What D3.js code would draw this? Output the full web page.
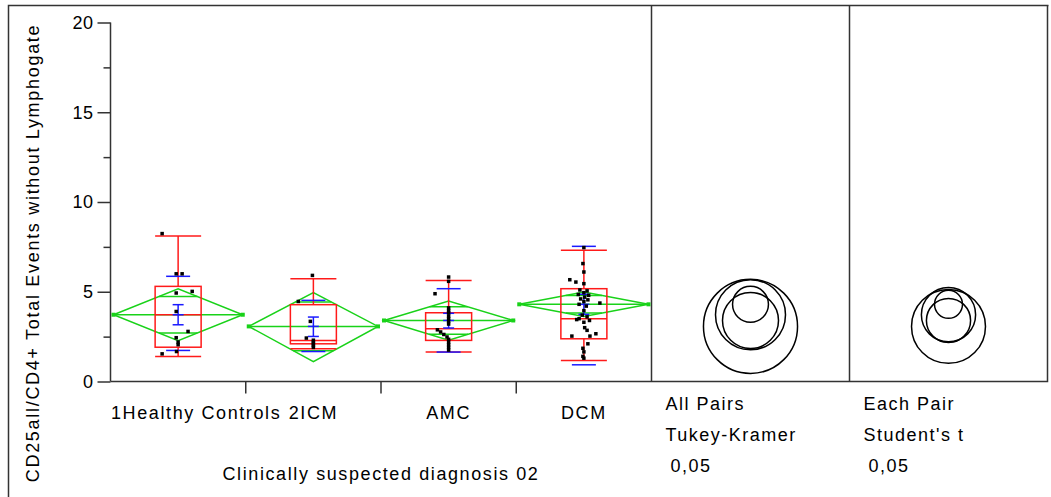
<!DOCTYPE html>
<html>
<head>
<meta charset="utf-8">
<script src="https://cdn.jsdelivr.net/npm/d3@7/dist/d3.min.js"></script>
<style>
  html, body { margin: 0; padding: 0; background: #fff; }
  svg { display: block; font-family: "Liberation Sans", Arial, sans-serif; }
</style>
</head>
<body>
<svg id="chart" width="1051" height="497"></svg>
<script>
// ---- data ----
const groups = ["1Healthy Controls", "2ICM", "AMC", "DCM"];
const yTicks = [0, 5, 10, 15, 20];
const yMinorTicks = [2.5, 7.5, 12.5, 17.5];

// individual observations: [horizontal jitter (-1..1), value]
const healthyPoints = [[-1, 8.24], [-0.12, 6.0], [0.25, 6.0], [-0.12, 4.93], [0.88, 5.02], [-0.12, 3.9],
  [0.62, 2.79], [-0.12, 2.44], [0, 2.2], [0, 2.05], [-0.1, 1.67], [-1, 1.54]];
const icmPoints = [[-0.06, 5.91], [-0.94, 4.46], [-0.19, 3.35], [-0.44, 2.42], [0, 2.3], [0, 2.2],
  [0, 2.1], [0, 2.0], [0, 1.9]];
const amcPoints = [[0, 5.82], [0, 5.58], [-0.85, 4.89], [0, 4.1], [0, 3.95], [0, 3.82], [0, 3.65], [0, 3.5],
  [0, 3.35], [0, 3.2], [-0.7, 2.88], [-0.5, 2.76], [-0.3, 2.62], [-0.1, 2.48], [0, 2.35], [0, 2.2],
  [0, 2.05], [0, 1.9], [0, 1.75]];
const dcmPoints = [[0, 7.46], [-0.06, 6.57], [0, 6.1], [-0.88, 5.67], [-0.5, 5.54], [0, 5.45],
  [-0.25, 5.1], [0.2, 5.05], [0, 4.95], [-0.35, 4.85], [0.3, 4.8], [0.05, 4.7], [-0.2, 4.6], [0.25, 4.55],
  [0, 4.45], [1.0, 4.37], [-0.3, 4.3], [0.15, 4.2], [0, 3.95], [-0.1, 3.7], [0.2, 3.6], [-0.3, 3.5],
  [-0.45, 3.45], [0.35, 3.4], [0, 3.3], [0.05, 3.0], [0.2, 2.85], [-0.75, 2.53], [0.75, 2.66], [0.38, 2.53],
  [0.25, 2.1], [-0.06, 1.85], [0, 1.65], [-0.06, 1.4], [0, 1.3]];
const groupPoints = [healthyPoints, icmPoints, amcPoints, dcmPoints];

// quantile boxes
const whiskerHigh = [8.1, 5.73, 5.63, 7.31];
const quartile3 = [5.3, 4.28, 3.83, 5.17];
const medians = [3.72, 2.29, 2.94, 3.5];
const quartile1 = [1.91, 2.1, 2.29, 2.38];
const whiskerLow = [1.39, 1.82, 1.64, 1.17];

// means diamonds (95% CI) with overlap marks
const means = [3.72, 3.07, 3.4, 4.3];
const ciHigh = [5.17, 4.95, 4.48, 4.98];
const ciLow = [2.27, 1.1, 2.3, 3.62];
const overlapHigh = [4.74, 4.43, 4.16, 4.79];
const overlapLow = [2.7, 1.71, 2.63, 3.81];

// std dev lines and mean error bars
const sdHigh = [5.86, 4.52, 5.17, 7.53];
const sdLow = [1.73, 1.67, 1.64, 0.93];
const seHigh = [4.28, 3.59, 3.8, 4.86];
const seLow = [3.16, 2.51, 2.98, 3.74];

// comparison circle radii (y units)
const tukeyRadius = [1.95, 2.62, 1.56, 1.0];
const studentRadius = [1.51, 2.06, 1.23, 0.78];
const compareLabels = [["All Pairs", "Tukey-Kramer", "0,05"], ["Each Pair", "Student's t", "0,05"]];

const yTitle = "CD25all/CD4+ Total Events without Lymphogate";
const xTitle = "Clinically suspected diagnosis 02";

// ---- layout ----
const svg = d3.select("#chart");
const GREEN = "#19d219", RED = "#ff1a1a", BLUE = "#1a1aff", AXIS = "#333", INK = "#000";
const plotLeft = 110.5, plotRight = 651.5, panelRight = 1047.5, plotTop = 5.5, plotBottom = 381.5;

const y = d3.scaleLinear().domain([0, 20]).range([plotBottom, 22.5]);
const x = d3.scaleBand().domain(groups).range([plotLeft, plotRight]).padding(0);
const panels = d3.scaleBand().domain([0, 1]).range([plotRight, panelRight]).padding(0);
const jitter = d3.scaleLinear().domain([-1, 1]).range([-16, 16]);
const cx = i => x(groups[i]) + x.bandwidth() / 2;

// frame
svg.append("path")
  .attr("d", `M8.5,497 V${plotTop} H${panelRight + 1}`)
  .attr("fill", "none").attr("stroke", AXIS).attr("stroke-width", 1.5);
svg.append("path")
  .attr("d", `M${plotLeft},${plotBottom} H${panelRight} V${plotTop}`)
  .attr("fill", "none").attr("stroke", AXIS).attr("stroke-width", 1.5);
[plotRight, panels(1)].forEach(px => {
  svg.append("line").attr("x1", px).attr("x2", px).attr("y1", plotTop).attr("y2", plotBottom)
    .attr("stroke", AXIS).attr("stroke-width", 1.5);
});

// y axis
const yAxis = svg.append("g").attr("transform", `translate(${plotLeft},0)`)
  .call(d3.axisLeft(y).tickValues(yTicks).tickSize(13).tickPadding(4).tickFormat(d3.format("d")));
yAxis.select(".domain").attr("stroke", AXIS).attr("stroke-width", 1.5).attr("d", `M0,${y(20)}V${plotBottom}`);
yAxis.selectAll(".tick line").attr("stroke", AXIS).attr("stroke-width", 1.5);
yAxis.selectAll(".tick text").attr("font-size", 18).attr("fill", INK)
  .attr("font-family", "Liberation Sans, Arial, sans-serif").style("letter-spacing", "0.5px");
const yMinor = svg.append("g").attr("transform", `translate(${plotLeft},0)`)
  .call(d3.axisLeft(y).tickValues(yMinorTicks).tickSize(7).tickFormat(""));
yMinor.select(".domain").remove();
yMinor.selectAll(".tick line").attr("stroke", AXIS).attr("stroke-width", 1.5);

// x axis: ticks at group boundaries
const bounds = groups.slice(1).map(g => x(g));
svg.append("g").selectAll("line").data(bounds).join("line")
  .attr("x1", d => d).attr("x2", d => d).attr("y1", plotBottom).attr("y2", plotBottom + 12)
  .attr("stroke", AXIS).attr("stroke-width", 1.5);

const xLabels = svg.append("g").selectAll("text").data(groups).join("text")
  .attr("y", 419).attr("font-size", 18).attr("fill", INK)
  .style("letter-spacing", "1.6px").text(d => d);
xLabels.each(function (d) {
  const w = this.getComputedTextLength();
  const left = Math.max(x(d) + x.bandwidth() / 2 - w / 2, plotLeft + 0.5);
  d3.select(this).attr("x", left);
});

svg.append("text").attr("x", (plotLeft + plotRight) / 2).attr("y", 480)
  .attr("text-anchor", "middle").attr("font-size", 18).attr("fill", INK)
  .style("letter-spacing", "1.6px").text(xTitle);
svg.append("text").attr("transform", "translate(39,253) rotate(-90)")
  .attr("text-anchor", "middle").attr("font-size", 18).attr("fill", INK)
  .style("letter-spacing", "1.7px").text(yTitle);

// ---- marks per group ----
const g = svg.append("g");
groups.forEach((name, i) => {
  const c = cx(i);
  const hw = x.bandwidth() / 2 - 3;   // diamond half width
  const bw = 23;                       // box half width

  // means diamond
  g.append("path")
    .attr("d", `M${c - hw},${y(means[i])} L${c},${y(ciHigh[i])} L${c + hw},${y(means[i])} L${c},${y(ciLow[i])} Z`)
    .attr("fill", "none").attr("stroke", GREEN).attr("stroke-width", 1.5);
  g.append("line").attr("x1", c - hw).attr("x2", c + hw).attr("y1", y(means[i])).attr("y2", y(means[i]))
    .attr("stroke", GREEN).attr("stroke-width", 1.5);
  [overlapHigh[i], overlapLow[i]].forEach(v => {
    const frac = Math.abs(v - means[i]) / Math.abs((v > means[i] ? ciHigh[i] : ciLow[i]) - means[i]);
    const ow = hw * (1 - frac);
    g.append("line").attr("x1", c - ow).attr("x2", c + ow).attr("y1", y(v)).attr("y2", y(v))
      .attr("stroke", GREEN).attr("stroke-width", 1.5);
  });
  [c - hw, c + hw].forEach(px => {
    g.append("rect").attr("x", px - 2).attr("y", y(means[i]) - 2).attr("width", 4).attr("height", 4)
      .attr("fill", GREEN);
  });

  // quantile box
  g.append("rect").attr("x", c - bw).attr("y", y(quartile3[i]))
    .attr("width", bw * 2).attr("height", y(quartile1[i]) - y(quartile3[i]))
    .attr("fill", "none").attr("stroke", RED).attr("stroke-width", 1.5);
  g.append("line").attr("x1", c - bw).attr("x2", c + bw).attr("y1", y(medians[i])).attr("y2", y(medians[i]))
    .attr("stroke", RED).attr("stroke-width", 1.5);
  [[whiskerHigh[i], quartile3[i]], [whiskerLow[i], quartile1[i]]].forEach(([w, q]) => {
    g.append("line").attr("x1", c).attr("x2", c).attr("y1", y(w)).attr("y2", y(q))
      .attr("stroke", RED).attr("stroke-width", 1.5);
    g.append("line").attr("x1", c - bw).attr("x2", c + bw).attr("y1", y(w)).attr("y2", y(w))
      .attr("stroke", RED).attr("stroke-width", 1.5);
  });

  // std dev lines
  [sdHigh[i], sdLow[i]].forEach(v => {
    g.append("line").attr("x1", c - 12).attr("x2", c + 12).attr("y1", y(v)).attr("y2", y(v))
      .attr("stroke", BLUE).attr("stroke-width", 1.5);
  });
  // mean error bar
  g.append("line").attr("x1", c).attr("x2", c).attr("y1", y(seHigh[i])).attr("y2", y(seLow[i]))
    .attr("stroke", BLUE).attr("stroke-width", 1.5);
  [seHigh[i], means[i], seLow[i]].forEach(v => {
    g.append("line").attr("x1", c - 5.5).attr("x2", c + 5.5).attr("y1", y(v)).attr("y2", y(v))
      .attr("stroke", BLUE).attr("stroke-width", 1.5);
  });

  // observations
  g.append("g").selectAll("rect").data(groupPoints[i]).join("rect")
    .attr("x", d => c + jitter(d[0]) - 1.75).attr("y", d => y(d[1]) - 1.75)
    .attr("width", 3.5).attr("height", 3.5).attr("fill", "#000");
});

// ---- comparison circles ----
[tukeyRadius, studentRadius].forEach((radii, p) => {
  const pc = panels(p) + panels.bandwidth() / 2;
  svg.append("g").selectAll("circle").data(radii).join("circle")
    .attr("cx", pc).attr("cy", (d, i) => y(means[i]))
    .attr("r", d => y(0) - y(d))
    .attr("fill", "none").attr("stroke", "#000").attr("stroke-width", 1.5);
  const lbl = svg.append("g");
  compareLabels[p].forEach((t, k) => {
    lbl.append("text").attr("x", panels(p) + (k === 2 ? 19 : 14)).attr("y", 410 + k * 31)
      .attr("font-size", 18).attr("fill", INK).style("letter-spacing", "1.5px").text(t);
  });
});
</script>
</body>
</html>
